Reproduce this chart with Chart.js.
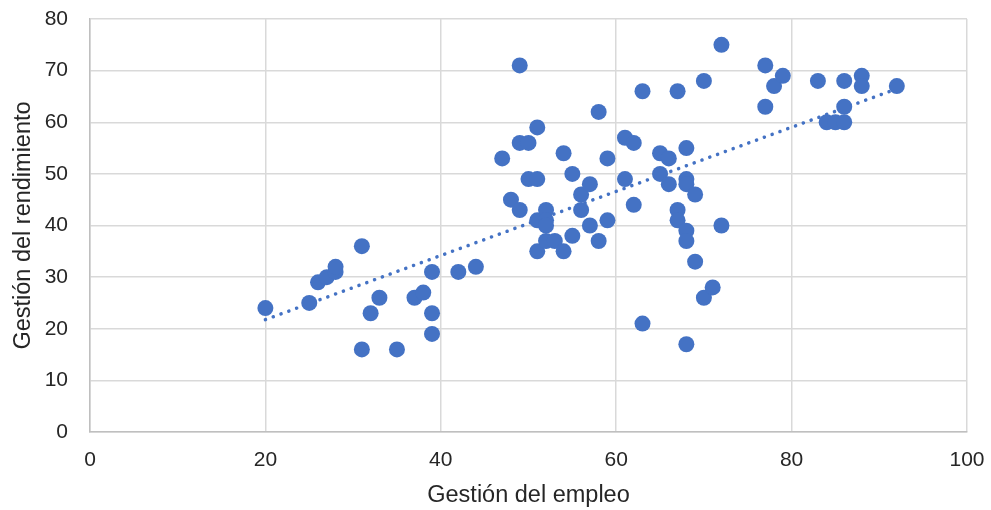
<!DOCTYPE html>
<html>
<head>
<meta charset="utf-8">
<script src="https://cdn.jsdelivr.net/npm/chart.js@4.4.1/dist/chart.umd.min.js"></script>
<style>
html,body{margin:0;padding:0;background:#fff;}
#wrap{width:991px;height:510px;position:relative;}
</style>
</head>
<body>
<div id="wrap"><canvas id="c" width="991" height="510"></canvas></div>
<script>
const xTitle = "Gestión del empleo";
const yTitle = "Gestión del rendimiento";
const xTicks = [0, 20, 40, 60, 80, 100];
const yTicks = [0, 10, 20, 30, 40, 50, 60, 70, 80];

const empleo = [20,25,26,27,28,28,31,31,32,33,35,37,38,39,39,39,42,44,47,48,49,49,49,50,50,51,51,51,51,52,52,52,52,53,54,54,55,55,56,56,57,57,58,58,59,59,61,61,62,62,63,63,65,65,66,66,67,67,67,68,68,68,68,68,68,69,69,70,70,71,72,72,77,77,78,79,83,84,85,86,86,86,88,88,92];
const rendimiento = [24,25,29,30,31,32,36,16,23,26,16,26,27,31,23,19,31,32,53,45,71,56,43,56,49,59,49,41,35,43,41,40,37,37,54,35,50,38,46,43,48,40,62,37,53,41,57,49,56,44,66,21,54,50,53,48,66,43,41,55,49,48,39,37,17,46,33,68,26,28,75,40,71,63,67,69,68,60,60,68,63,60,69,67,67];

const pts = empleo.map((x, i) => ({x: x, y: rendimiento[i]}));

// least-squares trendline from the data
const n = empleo.length;
const mx = empleo.reduce((a,b)=>a+b,0)/n;
const my = rendimiento.reduce((a,b)=>a+b,0)/n;
let sxy = 0, sxx = 0;
for (let i = 0; i < n; i++) { sxy += (empleo[i]-mx)*(rendimiento[i]-my); sxx += (empleo[i]-mx)**2; }
const slope = sxy/sxx, icpt = my - slope*mx;
const xmin = Math.min(...empleo), xmax = Math.max(...empleo);
const trend = [{x: xmin, y: icpt + slope*xmin}, {x: xmax, y: icpt + slope*xmax}];

const blue = '#4472C4';
const textCol = '#262626';
const tickFont = {family: "'Liberation Sans', Arial, sans-serif", size: 21};
const titleFont = {family: "'Liberation Sans', Arial, sans-serif", size: 23.5};

new Chart(document.getElementById('c'), {
  type: 'scatter',
  data: {
    datasets: [
      {
        type: 'line',
        data: trend,
        borderColor: blue,
        borderWidth: 3.5,
        borderDash: [0.1, 8.2],
        borderCapStyle: 'round',
        pointRadius: 0,
        fill: false,
        order: 2
      },
      {
        data: pts,
        backgroundColor: blue,
        borderColor: blue,
        pointRadius: 8,
        pointBorderWidth: 0,
        order: 1
      }
    ]
  },
  options: {
    responsive: false,
    animation: false,
    events: [],
    layout: {padding: {left: 9, right: 24, top: 19, bottom: 0}},
    plugins: {legend: {display: false}, tooltip: {enabled: false}},
    scales: {
      x: {
        type: 'linear', min: 0, max: 100,
        afterBuildTicks: (s) => { s.ticks = xTicks.map(v => ({value: v})); },
        afterFit: (s) => { s.height = 78; s.paddingLeft = 0; s.paddingRight = 0; },
        grid: {color: '#d9d9d9', lineWidth: 1.5, drawTicks: false},
        border: {color: '#bfbfbf', width: 1.5},
        ticks: {color: textCol, font: tickFont, padding: 16, maxRotation: 0},
        title: {display: true, text: xTitle, color: textCol, font: titleFont, padding: {top: 10, bottom: 0}}
      },
      y: {
        type: 'linear', min: 0, max: 80,
        afterBuildTicks: (s) => { s.ticks = yTicks.map(v => ({value: v})); },
        afterFit: (s) => { s.width = 81; s.paddingTop = 0; s.paddingBottom = 0; },
        grid: {color: '#d9d9d9', lineWidth: 1.5, drawTicks: false},
        border: {color: '#bfbfbf', width: 1.5},
        ticks: {color: textCol, font: tickFont, padding: 22},
        title: {display: true, text: yTitle, color: textCol, font: titleFont, padding: {top: 0, bottom: 8}}
      }
    }
  },
  plugins: [{
    id: 'bg',
    beforeDraw: (c) => { const ctx = c.ctx; ctx.save(); ctx.fillStyle = '#fff'; ctx.fillRect(0,0,c.width,c.height); ctx.restore(); }
  }]
});
</script>
</body>
</html>
